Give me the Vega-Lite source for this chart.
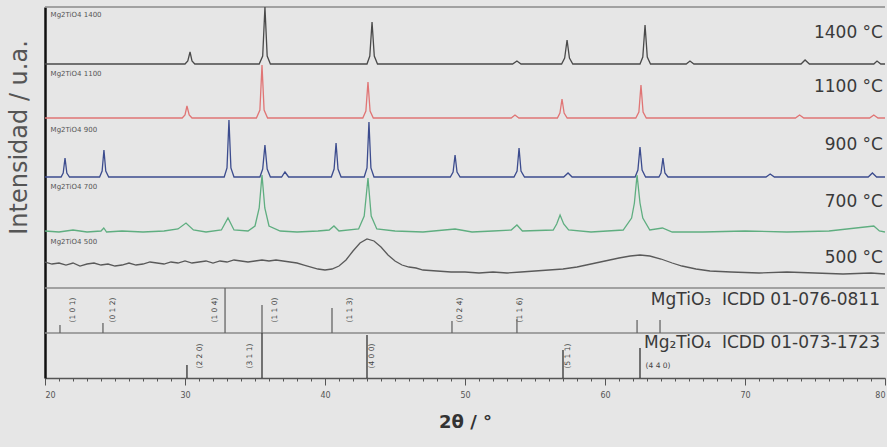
{
  "$schema": "https://vega.github.io/schema/vega-lite/v6.json",
  "width": 840,
  "height": 371,
  "autosize": {"type": "none"},
  "padding": {"left": 45, "top": 7, "right": 2, "bottom": 69},
  "background": "#e6e6e6",
  "config": {"view": {"stroke": null}, "font": "DejaVu Sans"},
  "resolve": {"scale": {"color": "independent"}, "axis": {"x": "independent"}},
  "datasets": {
    "traces": [
      {"t":"1400","x":20,"y":314},{"t":"1400","x":30.0,"y":314},{"t":"1400","x":30.2,"y":317},{"t":"1400","x":30.36,"y":326},{"t":"1400","x":30.5,"y":317},{"t":"1400","x":30.7,"y":314},{"t":"1400","x":35.3,"y":314},{"t":"1400","x":35.55,"y":322},{"t":"1400","x":35.71,"y":371},{"t":"1400","x":35.87,"y":322},{"t":"1400","x":36.1,"y":314},{"t":"1400","x":43.0,"y":314},{"t":"1400","x":43.2,"y":322},{"t":"1400","x":43.36,"y":356},{"t":"1400","x":43.52,"y":322},{"t":"1400","x":43.75,"y":314},{"t":"1400","x":53.4,"y":314},{"t":"1400","x":53.71,"y":317},{"t":"1400","x":54.0,"y":314},{"t":"1400","x":56.9,"y":314},{"t":"1400","x":57.12,"y":320},{"t":"1400","x":57.29,"y":338},{"t":"1400","x":57.46,"y":320},{"t":"1400","x":57.7,"y":314},{"t":"1400","x":62.5,"y":314},{"t":"1400","x":62.7,"y":321},{"t":"1400","x":62.86,"y":353},{"t":"1400","x":63.02,"y":321},{"t":"1400","x":63.25,"y":314},{"t":"1400","x":65.8,"y":314},{"t":"1400","x":66.07,"y":317},{"t":"1400","x":66.35,"y":314},{"t":"1400","x":74.0,"y":314},{"t":"1400","x":74.29,"y":318},{"t":"1400","x":74.6,"y":314},{"t":"1400","x":79.2,"y":314},{"t":"1400","x":79.43,"y":317},{"t":"1400","x":79.7,"y":314},{"t":"1400","x":80,"y":314},
      {"t":"1100","x":20,"y":260},{"t":"1100","x":29.8,"y":260},{"t":"1100","x":30.0,"y":263},{"t":"1100","x":30.14,"y":272},{"t":"1100","x":30.3,"y":263},{"t":"1100","x":30.5,"y":260},{"t":"1100","x":35.1,"y":260},{"t":"1100","x":35.35,"y":268},{"t":"1100","x":35.5,"y":313},{"t":"1100","x":35.65,"y":268},{"t":"1100","x":35.9,"y":260},{"t":"1100","x":42.7,"y":260},{"t":"1100","x":42.92,"y":267},{"t":"1100","x":43.07,"y":296},{"t":"1100","x":43.22,"y":267},{"t":"1100","x":43.45,"y":260},{"t":"1100","x":53.3,"y":260},{"t":"1100","x":53.57,"y":263},{"t":"1100","x":53.85,"y":260},{"t":"1100","x":56.6,"y":260},{"t":"1100","x":56.78,"y":265},{"t":"1100","x":56.93,"y":279},{"t":"1100","x":57.08,"y":265},{"t":"1100","x":57.3,"y":260},{"t":"1100","x":62.2,"y":260},{"t":"1100","x":62.42,"y":266},{"t":"1100","x":62.57,"y":293},{"t":"1100","x":62.72,"y":266},{"t":"1100","x":62.95,"y":260},{"t":"1100","x":73.6,"y":260},{"t":"1100","x":73.9,"y":263},{"t":"1100","x":74.2,"y":260},{"t":"1100","x":78.9,"y":260},{"t":"1100","x":79.2,"y":263},{"t":"1100","x":79.5,"y":260},{"t":"1100","x":80,"y":260},
      {"t":"900","x":20,"y":201},{"t":"900","x":21.15,"y":201},{"t":"900","x":21.3,"y":205},{"t":"900","x":21.43,"y":220},{"t":"900","x":21.56,"y":205},{"t":"900","x":21.75,"y":201},{"t":"900","x":23.9,"y":201},{"t":"900","x":24.08,"y":207},{"t":"900","x":24.21,"y":228},{"t":"900","x":24.34,"y":207},{"t":"900","x":24.55,"y":201},{"t":"900","x":32.8,"y":201},{"t":"900","x":33.0,"y":210},{"t":"900","x":33.14,"y":258},{"t":"900","x":33.28,"y":210},{"t":"900","x":33.5,"y":201},{"t":"900","x":35.35,"y":201},{"t":"900","x":35.55,"y":209},{"t":"900","x":35.71,"y":233},{"t":"900","x":35.87,"y":209},{"t":"900","x":36.1,"y":201},{"t":"900","x":36.9,"y":201},{"t":"900","x":37.14,"y":206},{"t":"900","x":37.4,"y":201},{"t":"900","x":40.45,"y":201},{"t":"900","x":40.65,"y":209},{"t":"900","x":40.79,"y":235},{"t":"900","x":40.93,"y":209},{"t":"900","x":41.15,"y":201},{"t":"900","x":42.8,"y":201},{"t":"900","x":43.0,"y":210},{"t":"900","x":43.14,"y":256},{"t":"900","x":43.28,"y":210},{"t":"900","x":43.5,"y":201},{"t":"900","x":48.95,"y":201},{"t":"900","x":49.15,"y":206},{"t":"900","x":49.29,"y":223},{"t":"900","x":49.43,"y":206},{"t":"900","x":49.65,"y":201},{"t":"900","x":53.5,"y":201},{"t":"900","x":53.72,"y":207},{"t":"900","x":53.86,"y":230},{"t":"900","x":54.0,"y":207},{"t":"900","x":54.25,"y":201},{"t":"900","x":57.05,"y":201},{"t":"900","x":57.36,"y":205},{"t":"900","x":57.65,"y":201},{"t":"900","x":62.15,"y":201},{"t":"900","x":62.35,"y":208},{"t":"900","x":62.5,"y":231},{"t":"900","x":62.65,"y":208},{"t":"900","x":62.9,"y":201},{"t":"900","x":63.85,"y":201},{"t":"900","x":64.0,"y":205},{"t":"900","x":64.14,"y":220},{"t":"900","x":64.28,"y":205},{"t":"900","x":64.5,"y":201},{"t":"900","x":71.5,"y":201},{"t":"900","x":71.8,"y":204},{"t":"900","x":72.1,"y":201},{"t":"900","x":78.8,"y":201},{"t":"900","x":79.1,"y":205},{"t":"900","x":79.4,"y":201},{"t":"900","x":80,"y":201},
      {"t":"700","x":20,"y":147},{"t":"700","x":21,"y":146},{"t":"700","x":22,"y":148},{"t":"700","x":23,"y":146},{"t":"700","x":24,"y":147},{"t":"700","x":24.2,"y":150},{"t":"700","x":24.4,"y":146},{"t":"700","x":25.5,"y":147},{"t":"700","x":27,"y":146},{"t":"700","x":28.5,"y":147},{"t":"700","x":29.5,"y":149},{"t":"700","x":30.07,"y":155},{"t":"700","x":30.6,"y":148},{"t":"700","x":31.5,"y":146},{"t":"700","x":32.6,"y":148},{"t":"700","x":33.07,"y":160},{"t":"700","x":33.5,"y":148},{"t":"700","x":34.5,"y":147},{"t":"700","x":35.0,"y":152},{"t":"700","x":35.3,"y":170},{"t":"700","x":35.5,"y":203},{"t":"700","x":35.7,"y":170},{"t":"700","x":36.0,"y":152},{"t":"700","x":36.8,"y":147},{"t":"700","x":38,"y":146},{"t":"700","x":39.5,"y":147},{"t":"700","x":40.3,"y":148},{"t":"700","x":40.64,"y":152},{"t":"700","x":41,"y":147},{"t":"700","x":42.4,"y":149},{"t":"700","x":42.8,"y":162},{"t":"700","x":43.07,"y":200},{"t":"700","x":43.3,"y":162},{"t":"700","x":43.7,"y":149},{"t":"700","x":45,"y":147},{"t":"700","x":47,"y":146},{"t":"700","x":49.29,"y":149},{"t":"700","x":50.5,"y":146},{"t":"700","x":52,"y":147},{"t":"700","x":53.3,"y":148},{"t":"700","x":53.71,"y":153},{"t":"700","x":54.1,"y":147},{"t":"700","x":56.3,"y":148},{"t":"700","x":56.55,"y":154},{"t":"700","x":56.79,"y":163},{"t":"700","x":57.05,"y":154},{"t":"700","x":57.4,"y":148},{"t":"700","x":59,"y":146},{"t":"700","x":61.3,"y":148},{"t":"700","x":61.9,"y":160},{"t":"700","x":62.1,"y":175},{"t":"700","x":62.29,"y":203},{"t":"700","x":62.5,"y":175},{"t":"700","x":62.7,"y":160},{"t":"700","x":63.2,"y":148},{"t":"700","x":64.1,"y":150},{"t":"700","x":64.8,"y":146},{"t":"700","x":67,"y":146},{"t":"700","x":70,"y":147},{"t":"700","x":73,"y":146},{"t":"700","x":76,"y":147},{"t":"700","x":79.2,"y":152},{"t":"700","x":79.6,"y":147},{"t":"700","x":80,"y":146},
      {"t":"500","x":20,"y":116},{"t":"500","x":20.5,"y":114},{"t":"500","x":21,"y":115},{"t":"500","x":21.5,"y":113},{"t":"500","x":22,"y":115},{"t":"500","x":22.5,"y":112},{"t":"500","x":23,"y":114},{"t":"500","x":23.5,"y":115},{"t":"500","x":24,"y":113},{"t":"500","x":24.5,"y":114},{"t":"500","x":25,"y":112},{"t":"500","x":25.5,"y":113},{"t":"500","x":26,"y":115},{"t":"500","x":26.5,"y":113},{"t":"500","x":27,"y":114},{"t":"500","x":27.5,"y":116},{"t":"500","x":28,"y":115},{"t":"500","x":28.5,"y":114},{"t":"500","x":29,"y":116},{"t":"500","x":29.5,"y":115},{"t":"500","x":30,"y":117},{"t":"500","x":30.5,"y":115},{"t":"500","x":31,"y":116},{"t":"500","x":31.5,"y":117},{"t":"500","x":32,"y":115},{"t":"500","x":32.5,"y":117},{"t":"500","x":33,"y":116},{"t":"500","x":33.5,"y":118},{"t":"500","x":34,"y":117},{"t":"500","x":34.5,"y":116},{"t":"500","x":35,"y":117},{"t":"500","x":35.5,"y":118},{"t":"500","x":36,"y":117},{"t":"500","x":36.5,"y":118},{"t":"500","x":37,"y":117},{"t":"500","x":37.5,"y":116},{"t":"500","x":38,"y":115},{"t":"500","x":38.5,"y":113},{"t":"500","x":39,"y":111},{"t":"500","x":39.5,"y":109},{"t":"500","x":40,"y":108},{"t":"500","x":40.5,"y":109},{"t":"500","x":41,"y":112},{"t":"500","x":41.5,"y":118},{"t":"500","x":42,"y":127},{"t":"500","x":42.5,"y":135},{"t":"500","x":43,"y":139},{"t":"500","x":43.5,"y":137},{"t":"500","x":44,"y":131},{"t":"500","x":44.5,"y":123},{"t":"500","x":45,"y":117},{"t":"500","x":45.5,"y":113},{"t":"500","x":46,"y":111},{"t":"500","x":46.5,"y":110},{"t":"500","x":47,"y":108},{"t":"500","x":48,"y":107},{"t":"500","x":49,"y":106},{"t":"500","x":50,"y":106},{"t":"500","x":51,"y":105},{"t":"500","x":52,"y":106},{"t":"500","x":53,"y":105},{"t":"500","x":54,"y":106},{"t":"500","x":55,"y":107},{"t":"500","x":56,"y":108},{"t":"500","x":57,"y":109},{"t":"500","x":58,"y":111},{"t":"500","x":59,"y":114},{"t":"500","x":60,"y":117},{"t":"500","x":61,"y":120},{"t":"500","x":61.8,"y":122},{"t":"500","x":62.5,"y":123},{"t":"500","x":63.2,"y":122},{"t":"500","x":64,"y":119},{"t":"500","x":64.8,"y":115},{"t":"500","x":65.5,"y":112},{"t":"500","x":66.5,"y":109},{"t":"500","x":67.5,"y":107},{"t":"500","x":69,"y":106},{"t":"500","x":71,"y":105},{"t":"500","x":73,"y":106},{"t":"500","x":75,"y":105},{"t":"500","x":77,"y":104},{"t":"500","x":79,"y":105},{"t":"500","x":80,"y":104}
    ],
    "hlines": [{"y":371},{"y":90},{"y":45}],
    "sticks": [
      {"p":"MgTiO3","x":21.07,"y0":45,"y1":53},{"p":"MgTiO3","x":24.14,"y0":45,"y1":55},{"p":"MgTiO3","x":32.86,"y0":45,"y1":90},{"p":"MgTiO3","x":35.5,"y0":45,"y1":73},{"p":"MgTiO3","x":40.5,"y0":45,"y1":70},{"p":"MgTiO3","x":49.07,"y0":45,"y1":57},{"p":"MgTiO3","x":53.71,"y0":45,"y1":59},{"p":"MgTiO3","x":62.29,"y0":45,"y1":58},{"p":"MgTiO3","x":63.93,"y0":45,"y1":58},
      {"p":"Mg2TiO4","x":30.14,"y0":0,"y1":13},{"p":"Mg2TiO4","x":35.5,"y0":0,"y1":45},{"p":"Mg2TiO4","x":43.0,"y0":0,"y1":43},{"p":"Mg2TiO4","x":57.0,"y0":0,"y1":28},{"p":"Mg2TiO4","x":62.5,"y0":0,"y1":30}
    ],
    "hkl": [
      {"x":22.0,"y":68,"l":"(1 0 1)"},{"x":24.86,"y":68,"l":"(0 1 2)"},{"x":32.14,"y":68,"l":"(1 0 4)"},{"x":36.43,"y":68,"l":"(1 1 0)"},{"x":41.79,"y":68,"l":"(1 1 3)"},{"x":49.64,"y":68,"l":"(0 2 4)"},{"x":53.93,"y":68,"l":"(1 1 6)"},
      {"x":31.07,"y":22,"l":"(2 2 0)"},{"x":34.64,"y":22,"l":"(3 1 1)"},{"x":43.36,"y":22,"l":"(4 0 0)"},{"x":57.36,"y":22,"l":"(5 1 1)"}
    ],
    "hkl2": [{"x":62.9,"y":12,"l":"(4 4 0)"}],
    "samples": [
      {"x":20.4,"y":363,"l":"Mg2TiO4 1400"},{"x":20.4,"y":304,"l":"Mg2TiO4 1100"},{"x":20.4,"y":248,"l":"Mg2TiO4 900"},{"x":20.4,"y":191,"l":"Mg2TiO4 700"},{"x":20.4,"y":136,"l":"Mg2TiO4 500"}
    ],
    "temps": [
      {"x":80,"y":345,"l":"1400 °C"},{"x":80,"y":291,"l":"1100 °C"},{"x":80,"y":233,"l":"900 °C"},{"x":80,"y":176,"l":"700 °C"},{"x":80,"y":120,"l":"500 °C"}
    ],
    "phases": [
      {"x":80,"y":78,"l":"MgTiO₃\u00a0\u00a0ICDD\u00a001-076-0811"},{"x":80,"y":35,"l":"Mg₂TiO₄\u00a0\u00a0ICDD\u00a001-073-1723"}
    ]
  },
  "layer": [
    {
      "data": {"name": "hlines"},
      "mark": {"type": "rule", "color": "#8a8a8a", "strokeWidth": 1.6},
      "encoding": {"y": {"field": "y", "type": "quantitative"}}
    },
    {
      "data": {"name": "traces"},
      "mark": {"type": "line", "strokeWidth": 1.3, "clip": true},
      "encoding": {
        "x": {"field": "x", "type": "quantitative", "scale": {"domain": [20, 80], "nice": false, "zero": false},
          "axis": {
            "orient": "bottom",
            "values": [20,30,40,50,60,70,80],
            "labelOverlap": false,
            "tickSize": 7,
            "tickColor": "#555", "domainColor": "#555", "domainWidth": 1.6,
            "labelFontSize": 8, "labelColor": "#555", "labelPadding": 6, "grid": false,
            "title": "2θ / °", "titleFontSize": 18, "titleFontWeight": "bold", "titleColor": "#333", "titlePadding": 14
          }},
        "y": {"field": "y", "type": "quantitative", "scale": {"domain": [0, 371], "nice": false, "zero": false},
          "axis": {"ticks": false, "labels": false, "grid": false, "domainColor": "#111", "domainWidth": 2.5,
            "title": "Intensidad / u.a.", "titleFontSize": 24, "titleFontWeight": "normal", "titleColor": "#555",
            "titleX": -26, "titleY": 130, "titleAngle": 270, "titleAlign": "center", "titleBaseline": "middle"}},
        "color": {"field": "t", "type": "nominal", "legend": null,
          "scale": {"domain": ["1400","1100","900","700","500"], "range": ["#4a4a4a","#e07575","#3c4c8e","#5fae80","#5a5a5a"]}},
        "strokeWidth": {"field": "t", "type": "nominal", "legend": null,
          "scale": {"domain": ["1400","1100","900","700","500"], "range": [1.3,1.3,1.3,1.4,2.2]}}
      }
    },
    {
      "data": {"name": "sticks"},
      "mark": {"type": "rule", "strokeWidth": 1.3},
      "encoding": {
        "x": {"field": "x", "type": "quantitative",
          "axis": {"orient": "bottom", "values": [21,22,23,24,25,26,27,28,29,31,32,33,34,35,36,37,38,39,41,42,43,44,45,46,47,48,49,51,52,53,54,55,56,57,58,59,61,62,63,64,65,66,67,68,69,71,72,73,74,75,76,77,78,79],
            "labels": false, "domain": false, "grid": false, "tickSize": 3, "tickColor": "#555", "title": null}},
        "y": {"field": "y0", "type": "quantitative"},
        "y2": {"field": "y1"},
        "color": {"field": "p", "type": "nominal", "legend": null, "scale": {"domain": ["MgTiO3","Mg2TiO4"], "range": ["#666666","#333333"]}}
      }
    },
    {
      "data": {"name": "hkl"},
      "mark": {"type": "text", "angle": 270, "fontSize": 7.5, "color": "#444", "align": "center", "baseline": "middle"},
      "encoding": {"x": {"field": "x", "type": "quantitative", "axis": null}, "y": {"field": "y", "type": "quantitative"}, "text": {"field": "l"}}
    },
    {
      "data": {"name": "hkl2"},
      "mark": {"type": "text", "fontSize": 7.5, "color": "#444", "align": "left", "baseline": "middle"},
      "encoding": {"x": {"field": "x", "type": "quantitative", "axis": null}, "y": {"field": "y", "type": "quantitative"}, "text": {"field": "l"}}
    },
    {
      "data": {"name": "samples"},
      "mark": {"type": "text", "fontSize": 7, "color": "#555", "align": "left", "baseline": "middle"},
      "encoding": {"x": {"field": "x", "type": "quantitative", "axis": null}, "y": {"field": "y", "type": "quantitative"}, "text": {"field": "l"}}
    },
    {
      "data": {"name": "temps"},
      "mark": {"type": "text", "fontSize": 17, "color": "#3a3a3a", "align": "right", "baseline": "middle", "dx": -2},
      "encoding": {"x": {"field": "x", "type": "quantitative", "axis": null}, "y": {"field": "y", "type": "quantitative"}, "text": {"field": "l"}}
    },
    {
      "data": {"name": "phases"},
      "mark": {"type": "text", "fontSize": 17, "color": "#3a3a3a", "align": "right", "baseline": "middle", "dx": -5},
      "encoding": {"x": {"field": "x", "type": "quantitative", "axis": null}, "y": {"field": "y", "type": "quantitative"}, "text": {"field": "l"}}
    }
  ]
}
